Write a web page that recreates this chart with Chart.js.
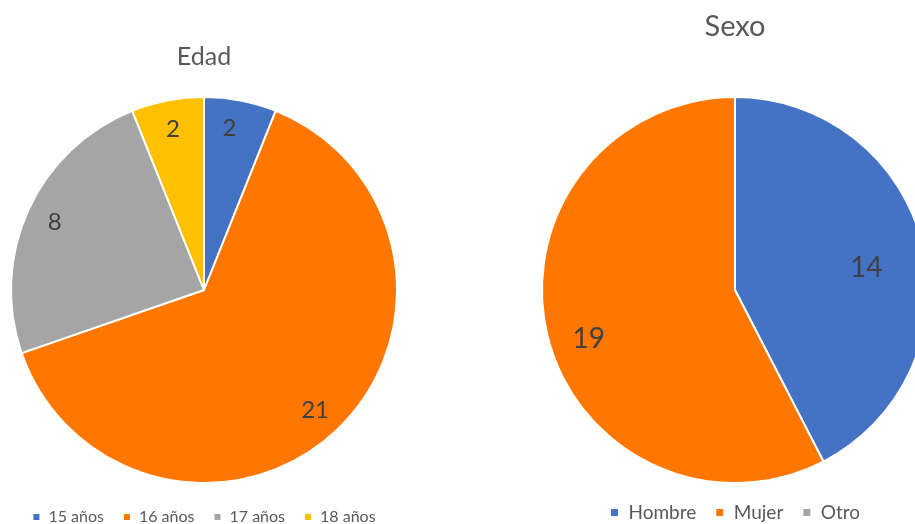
<!DOCTYPE html>
<html>
<head>
<meta charset="utf-8">
<script src="https://cdn.jsdelivr.net/npm/chart.js@4.4.1/dist/chart.umd.min.js"></script>
<style>
  html, body { margin: 0; padding: 0; width: 915px; height: 524px; overflow: hidden; background: #fff; }
  .box { position: absolute; top: 0; }
  #leftBox { left: -18px; width: 444px; height: 535px; }
  #rightBox { left: 515px; width: 440px; height: 532px; }
</style>
</head>
<body>
<div class="box" id="leftBox"><canvas id="edad"></canvas></div>
<div class="box" id="rightBox"><canvas id="sexo"></canvas></div>
<script>
const edadLabels = ['15 años', '16 años', '17 años', '18 años'];
const edadValues = [2, 21, 8, 2];
const edadColors = ['#4472C4', '#FF7700', '#A5A5A5', '#FFC000'];

const sexoLabels = ['Hombre', 'Mujer', 'Otro'];
const sexoValues = [14, 19, 0];
const sexoColors = ['#4472C4', '#FF7700', '#A5A5A5'];

const FONT = 'Lato, "Open Sans", sans-serif';
const TXT = '#595959';

const sliceLabels = {
  id: 'sliceLabels',
  afterDatasetsDraw(chart, args, opts) {
    const ctx = chart.ctx;
    const meta = chart.getDatasetMeta(0);
    const data = chart.data.datasets[0].data;
    ctx.save();
    ctx.font = opts.size + 'px ' + FONT;
    ctx.fillStyle = '#404040';
    ctx.textAlign = 'center';
    ctx.textBaseline = 'middle';
    meta.data.forEach((arc, i) => {
      if (!data[i]) return;
      const p = arc.getProps(['x', 'y', 'startAngle', 'endAngle', 'outerRadius'], true);
      const shift = (opts.shift && opts.shift[i] || 0) * Math.PI / 180;
      const mid = (p.startAngle + p.endAngle) / 2 + shift;
      const f = Array.isArray(opts.fraction) ? opts.fraction[i] : opts.fraction;
      const r = p.outerRadius * f;
      ctx.fillText(String(data[i]), p.x + Math.cos(mid) * r, p.y + Math.sin(mid) * r);
    });
    ctx.restore();
  }
};

function makePie(id, labels, values, colors, cfg) {
  return new Chart(document.getElementById(id), {
    type: 'pie',
    data: {
      labels: labels,
      datasets: [{ data: values, backgroundColor: colors, borderColor: '#ffffff', borderWidth: 2 }]
    },
    options: {
      responsive: true,
      maintainAspectRatio: false,
      animation: false,
      layout: { padding: 0 },
      plugins: {
        tooltip: { enabled: false },
        title: {
          display: true,
          text: cfg.title,
          color: TXT,
          font: { family: FONT, size: cfg.titleSize, weight: 'normal', lineHeight: 1.2 },
          padding: { top: cfg.titleTop, bottom: cfg.titleBottom }
        },
        legend: {
          position: 'bottom',
          title: { display: cfg.legendGap > 0, text: '', font: { size: cfg.legendGap, lineHeight: 1 }, padding: 0 },
          labels: {
            color: TXT,
            font: { family: FONT, size: cfg.legendSize },
            boxWidth: cfg.box,
            boxHeight: cfg.box,
            padding: cfg.legendPad
          }
        },
        sliceLabels: { size: cfg.labelSize, fraction: cfg.fraction, shift: cfg.shift }
      }
    },
    plugins: [sliceLabels]
  });
}

makePie('edad', edadLabels, edadValues, edadColors, {
  title: 'Edad', titleSize: 25, titleTop: 42, titleBottom: 24,
  legendSize: 16, box: 8, legendPad: 19, legendGap: 6, labelSize: 24, fraction: 0.85, shift: [-2, 1, 0, 0]
});
makePie('sexo', sexoLabels, sexoValues, sexoColors, {
  title: 'Sexo', titleSize: 29, titleTop: 9.6, titleBottom: 51.6,
  legendSize: 19, box: 9, legendPad: 19, legendGap: 0, labelSize: 28, fraction: [0.69, 0.80, 0.8], shift: [4, -5, 0]
});
</script>
</body>
</html>
